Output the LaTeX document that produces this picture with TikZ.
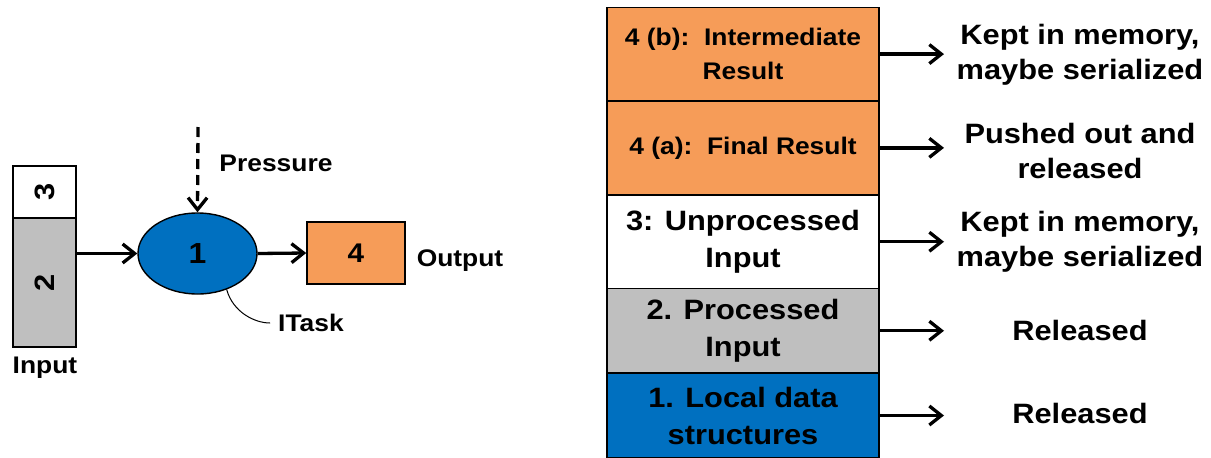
\documentclass[tikz,border=0pt]{standalone}
\usepackage{fontspec}
\setmainfont{Liberation Sans}[FakeStretch=1.1]
\usetikzlibrary{arrows.meta,shapes.geometric}
\definecolor{taskblue}{HTML}{0070C0}
\definecolor{resorange}{HTML}{F69C58}
\definecolor{inputgray}{HTML}{BFBFBF}

\tikzset{
  cell/.style={draw=black, line width=1.6pt, minimum width=272pt, inner sep=0pt,
    align=center},
  smalltext/.style={font=\bfseries\fontsize{24}{34}\selectfont},
  bigtext/.style={font=\bfseries\fontsize{28}{37}\selectfont},
  fate/.style={align=center, font=\bfseries\fontsize{28}{35}\selectfont},
  lbl/.style={font=\bfseries\fontsize{24}{28}\selectfont, inner sep=0pt},
  flow/.style={line width=3.3pt, -{Straight Barb[length=12pt,width=19pt]}},
  pressurearrow/.style={flow, dash pattern=on 10pt off 6pt},
}

\begin{document}
\begin{tikzpicture}[x=1pt, y=-1pt]
\useasboundingbox (0,0) rectangle (1211,458);

% ---------- task with its input and output ----------
\node[draw=black, line width=1.6pt, fill=white, minimum width=63pt, minimum height=52pt,
  inner sep=0pt, font=\bfseries\fontsize{28}{30}\selectfont] (in3) at (44.5,192) {\rotatebox{90}{3}};
\node[draw=black, line width=1.6pt, fill=inputgray, minimum width=63pt, minimum height=129pt,
  inner sep=0pt, font=\bfseries\fontsize{28}{30}\selectfont] (in2) at (44.5,282.5) {\rotatebox{90}{2}};
\node[lbl] (inlabel) at (45,368) {Input};

\node[ellipse, draw=black, line width=1.4pt, fill=taskblue, minimum width=119pt,
  minimum height=81pt, inner sep=0pt, font=\bfseries\fontsize{29}{30}\selectfont]
  (task) at (197.5,253.5) {1};

\node[draw=black, line width=1.6pt, fill=resorange, minimum width=98pt, minimum height=62pt,
  inner sep=0pt, font=\bfseries\fontsize{27}{30}\selectfont] (out) at (356,253) {4};
\node[lbl] (outlabel) at (460,261) {Output};

\coordinate (pstart) at (198,127);
\node[lbl] (plabel) at (276,163) {Pressure};
\node[lbl] (itask) at (311,323) {ITask};

\draw[flow] (in2.east |- task.west) -- (task.west);
\draw[flow] (task.east) -- (out.west);
\draw[pressurearrow] (pstart) -- (task.north);
\draw[line width=1pt] (task.-51) .. controls +(6,22) and +(-16,0) .. ([xshift=-8pt]itask.west);

% ---------- memory stack ----------
\node[cell, smalltext, fill=resorange, minimum height=93.2pt] (r1) at (743,54.1)
  {4 (b):\ \ Intermediate\\Result};
\node[cell, smalltext, fill=resorange, minimum height=94.3pt] (r2) at (743,147.85)
  {4 (a):\ \ Final Result};
\node[cell, bigtext, fill=white, minimum height=93.5pt] (r3) at (743,241.75)
  {3: Unprocessed\\Input};
\node[cell, bigtext, fill=inputgray, minimum height=84.5pt] (r4) at (743,330.75)
  {2. Processed\\Input};
\node[cell, bigtext, fill=taskblue, minimum height=85pt] (r5) at (743,415.5)
  {1. Local data\\structures};

\coordinate (tips) at (944,0);
\foreach \r in {r1,r2,r3,r4,r5}
  \draw[flow] (\r.east) -- (\r.east -| tips);

\node[fate] (f1) at (1080,54.5) {Kept in memory,\\maybe serialized};
\node[fate] (f2) at (1080,151) {Pushed out and\\released};
\node[fate] (f3) at (1080,241.5) {Kept in memory,\\maybe serialized};
\node[fate] (f4) at (1080,330) {Released};
\node[fate] (f5) at (1080,413) {Released};
\end{tikzpicture}
\end{document}
